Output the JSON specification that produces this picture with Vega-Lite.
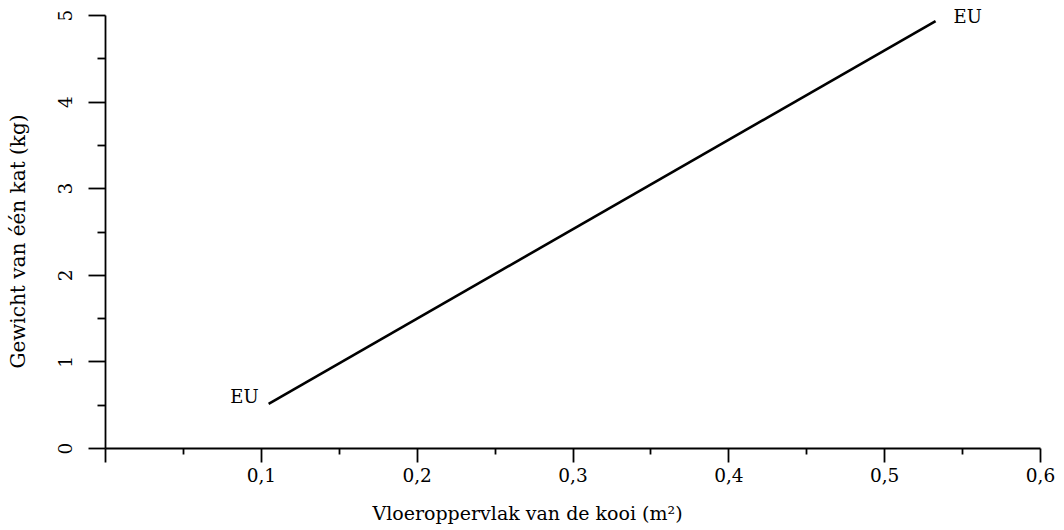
{
  "$schema": "https://vega.github.io/schema/vega-lite/v6.json",
  "width": 935,
  "height": 433,
  "autosize": {"type": "none"},
  "padding": {"left": 105, "top": 15, "right": 24, "bottom": 82},
  "background": "white",
  "config": {
    "view": {"stroke": null},
    "font": "DejaVu Serif",
    "axis": {
      "grid": false,
      "domainColor": "black",
      "tickColor": "black",
      "labelColor": "black",
      "titleColor": "black",
      "labelFont": "DejaVu Serif",
      "titleFont": "DejaVu Serif",
      "titleFontWeight": "normal",
      "labelFontSize": 18.5,
      "titleFontSize": 19,
      "domainWidth": 1.8,
      "tickWidth": 1.8
    }
  },
  "layer": [
    {
      "data": {"values": [{"area": 0.105, "gewicht": 0.51}, {"area": 0.533, "gewicht": 4.93}]},
      "mark": {"type": "line", "color": "black", "strokeWidth": 2.6},
      "encoding": {
        "x": {
          "field": "area", "type": "quantitative",
          "scale": {"domain": [0, 0.6], "nice": false, "zero": false},
          "axis": {
            "orient": "bottom",
            "values": [0, 0.1, 0.2, 0.3, 0.4, 0.5, 0.6],
            "tickSize": 14,
            "labelPadding": 4,
            "labelDx": -2,
            "labelExpr": "datum.value == 0 ? '' : replace(format(datum.value, '.1f'), '.', ',')",
            "labelFlush": false,
            "labelOverlap": false,
            "title": "Vloeroppervlak van de kooi (m²)",
            "titlePadding": 20,
            "titleX": 422
          }
        },
        "y": {
          "field": "gewicht", "type": "quantitative",
          "scale": {"domain": [0, 5], "nice": false, "zero": false},
          "axis": {
            "orient": "left",
            "values": [0, 1, 2, 3, 4, 5],
            "tickSize": 17,
            "labelAngle": -90,
            "labelPadding": 13,
            "labelFlush": false,
            "labelOverlap": false,
            "title": "Gewicht van één kat (kg)",
            "titleFontSize": 20,
            "titlePadding": 28,
            "titleY": 226
          }
        }
      }
    },
    {
      "data": {"values": [{"area": 0.105, "gewicht": 0.51}, {"area": 0.533, "gewicht": 4.93}]},
      "mark": {"type": "point", "opacity": 0},
      "encoding": {
        "x": {
          "field": "area", "type": "quantitative",
          "axis": {
            "orient": "bottom",
            "values": [0.05, 0.15, 0.25, 0.35, 0.45, 0.55],
            "tickSize": 6,
            "labels": false,
            "domain": false,
            "title": null
          }
        },
        "y": {
          "field": "gewicht", "type": "quantitative",
          "axis": {
            "orient": "left",
            "values": [0.5, 1.5, 2.5, 3.5, 4.5],
            "tickSize": 8,
            "labels": false,
            "domain": false,
            "title": null
          }
        }
      }
    },
    {
      "data": {"values": [{"area": 0.105, "gewicht": 0.51, "label": "EU"}]},
      "mark": {"type": "text", "align": "right", "baseline": "middle", "dx": -10, "dy": -6, "fontSize": 18, "font": "DejaVu Serif", "color": "black"},
      "encoding": {
        "x": {"field": "area", "type": "quantitative", "axis": null},
        "y": {"field": "gewicht", "type": "quantitative", "axis": null},
        "text": {"field": "label"}
      }
    },
    {
      "data": {"values": [{"area": 0.533, "gewicht": 4.93, "label": "EU"}]},
      "mark": {"type": "text", "align": "left", "baseline": "middle", "dx": 18, "dy": -3, "fontSize": 18, "font": "DejaVu Serif", "color": "black"},
      "encoding": {
        "x": {"field": "area", "type": "quantitative", "axis": null},
        "y": {"field": "gewicht", "type": "quantitative", "axis": null},
        "text": {"field": "label"}
      }
    }
  ],
  "resolve": {"axis": {"x": "independent", "y": "independent"}}
}
